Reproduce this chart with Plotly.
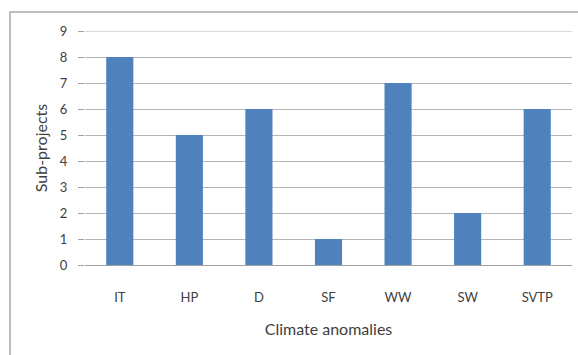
import plotly.graph_objects as go

categories = ["IT", "HP", "D", "SF", "WW", "SW", "SVTP"]
sub_projects = [8, 5, 6, 1, 7, 2, 6]
y_ticks = list(range(0, 10))

W, H = 578, 355
ML, MR, MT, MB = 85, 6, 31, 90
pw, ph = W - ML - MR, H - MT - MB

fig = go.Figure(
    go.Bar(
        x=categories,
        y=sub_projects,
        marker=dict(color="#4F81BD", line=dict(width=0)),
        width=0.39,
    )
)

font = "Lato, Carlito, Open Sans, sans-serif"
text_color = "#404040"
grid_color = "#B5B5B5"

fig.update_layout(
    width=W,
    height=H,
    margin=dict(l=ML, r=MR, t=MT, b=MB),
    paper_bgcolor="white",
    plot_bgcolor="white",
    showlegend=False,
    font=dict(family=font, size=13, color=text_color),
    shapes=[
        # outer chart-area frame
        dict(
            type="rect",
            xref="paper",
            yref="paper",
            x0=(10 - ML) / pw,
            x1=1.2,
            y0=-0.6,
            y1=1 + (MT - 12) / ph,
            line=dict(color="#A8A8A8", width=1.5),
            fillcolor="rgba(0,0,0,0)",
            layer="below",
        ),
        # top gridline at the axis maximum
        dict(
            type="line",
            xref="paper",
            yref="y",
            x0=0,
            x1=1,
            y0=y_ticks[-1],
            y1=y_ticks[-1],
            line=dict(color=grid_color, width=1),
            layer="below",
        ),
    ],
)

fig.update_yaxes(
    range=[0, y_ticks[-1]],
    tickvals=y_ticks,
    showgrid=True,
    gridcolor=grid_color,
    gridwidth=1,
    zeroline=False,
    showline=False,
    ticks="outside",
    ticklen=6,
    tickcolor="#A0A0A0",
    ticklabelstandoff=8,
    tickfont=dict(size=13, color=text_color),
    title=dict(text="Sub-projects", font=dict(size=16, color=text_color), standoff=8),
)

fig.update_xaxes(
    showgrid=False,
    showline=True,
    linecolor="#A0A0A0",
    linewidth=1,
    ticks="",
    ticklabelstandoff=20,
    tickfont=dict(size=13, color=text_color),
    title=dict(text="Climate anomalies", font=dict(size=16, color=text_color), standoff=20),
)

fig.write_html("out.html")
